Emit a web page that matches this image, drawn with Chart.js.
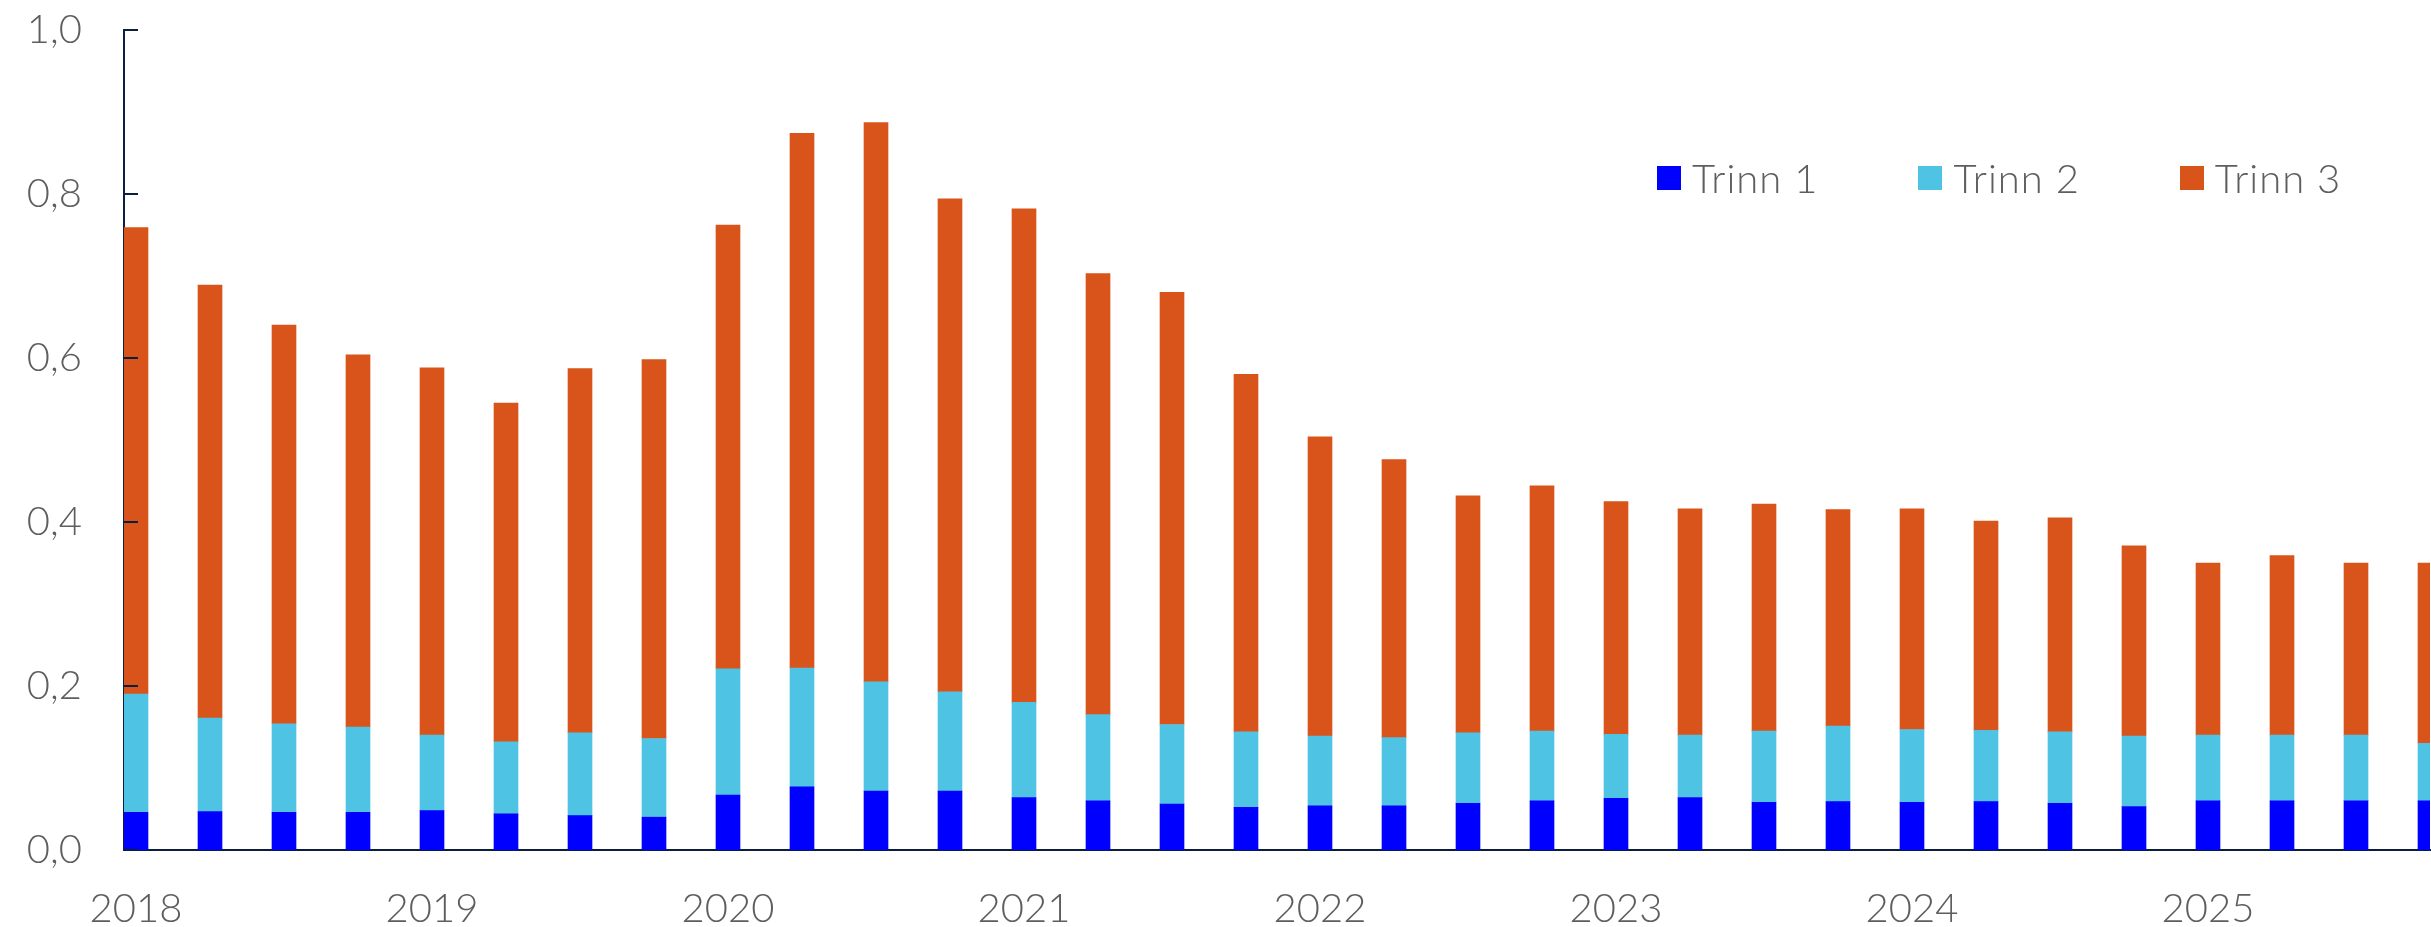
<!DOCTYPE html>
<html>
<head>
<meta charset="utf-8">
<script src="https://cdn.jsdelivr.net/npm/chart.js@4.4.1/dist/chart.umd.min.js"></script>
<style>
  html, body { margin: 0; padding: 0; background: #ffffff; }
  #wrap { position: relative; width: 2431px; height: 927px; overflow: hidden; }
  #c { position: absolute; left: 0; top: 0; }
  #legend { position: absolute; left: 1657px; top: 158px; display: flex; align-items: center;
            font-family: Lato, "Open Sans", sans-serif; font-weight: 300; font-size: 40px; color: #5e5e5e; line-height: 40px; }
  #legend .item { display: flex; align-items: center; margin-right: 100px; white-space: nowrap; letter-spacing: 1px; }
  #legend .box { width: 24px; height: 24px; margin-right: 11px; }
</style>
</head>
<body>
<div id="wrap">
  <canvas id="c" width="2431" height="927"></canvas>
  <div id="legend"></div>
</div>
<script>
// ---- data ----
const years = ['2018', '2019', '2020', '2021', '2022', '2023', '2024', '2025'];
const quarters = years.flatMap(y => ['K1', 'K2', 'K3', 'K4'].map(q => y + ' ' + q));
const seriesNames = ['Trinn 1', 'Trinn 2', 'Trinn 3'];
const trinn1 = [0.046, 0.047, 0.046, 0.046, 0.048, 0.044, 0.042, 0.040,
                0.067, 0.077, 0.072, 0.072, 0.064, 0.060, 0.056, 0.052,
                0.054, 0.054, 0.057, 0.060, 0.063, 0.064, 0.058, 0.059,
                0.058, 0.059, 0.057, 0.053, 0.060, 0.060, 0.060, 0.060];
const trinn2 = [0.144, 0.114, 0.108, 0.104, 0.092, 0.088, 0.101, 0.096,
                0.154, 0.145, 0.133, 0.121, 0.116, 0.105, 0.097, 0.092,
                0.085, 0.083, 0.086, 0.085, 0.078, 0.076, 0.087, 0.092,
                0.089, 0.087, 0.087, 0.086, 0.080, 0.080, 0.080, 0.070];
const trinn3 = [0.569, 0.528, 0.486, 0.454, 0.448, 0.413, 0.444, 0.462,
                0.541, 0.652, 0.682, 0.601, 0.602, 0.538, 0.527, 0.436,
                0.365, 0.339, 0.289, 0.299, 0.284, 0.276, 0.277, 0.264,
                0.269, 0.255, 0.261, 0.232, 0.210, 0.219, 0.210, 0.220];
const yTicks = [0, 0.2, 0.4, 0.6, 0.8, 1.0];

// ---- styles ----
const colors = ['#0000ff', '#4fc3e3', '#d9541a'];
const axisColor = '#0c1e3e';
const textColor = '#5e5e5e';
const fontFamily = 'Lato, "Open Sans", sans-serif';

const seriesValues = [trinn1, trinn2, trinn3];
const datasets = seriesNames.map((name, k) => ({
  label: name,
  data: seriesValues[k].map((v, i) => ({ x: i, y: v })),
  backgroundColor: colors[k],
  borderWidth: 0,
  barThickness: 24
}));

const innerTicks = {
  id: 'innerTicks',
  afterDatasetsDraw(chart) {
    const ys = chart.scales.y, ctx = chart.ctx;
    ctx.save();
    ctx.strokeStyle = axisColor;
    ctx.lineWidth = 2;
    ys.ticks.forEach(t => {
      const py = Math.round(ys.getPixelForValue(t.value));
      ctx.beginPath();
      ctx.moveTo(ys.right - 1, py);
      ctx.lineTo(ys.right + 14, py);
      ctx.stroke();
    });
    ctx.restore();
  }
};

function zeroPad(scale) {
  scale.paddingTop = 0; scale.paddingBottom = 0;
  scale.paddingLeft = 0; scale.paddingRight = 0;
}

function build() {
  const chart = new Chart(document.getElementById('c'), {
    type: 'bar',
    data: { labels: quarters, datasets },
    options: {
      responsive: false,
      animation: false,
      layout: { padding: { top: 30, right: 1, left: 0, bottom: 0 } },
      plugins: { legend: { display: false }, tooltip: { enabled: false } },
      scales: {
        x: {
          type: 'linear',
          stacked: true,
          offset: false,
          min: -12 / 74,
          max: quarters.length - 1,
          grid: { display: false, drawTicks: false, offset: false },
          border: { display: true, color: axisColor, width: 2 },
          afterBuildTicks: (scale) => {
            scale.ticks = years.map((y, i) => ({ value: i * 4 }));
          },
          afterFit: (scale) => { scale.height = 77; zeroPad(scale); },
          ticks: {
            autoSkip: false,
            maxRotation: 0,
            padding: 39,
            color: textColor,
            font: { family: fontFamily, size: 40, weight: 300, lineHeight: 1 },
            callback: (v) => years[Math.round(v / 4)]
          }
        },
        y: {
          stacked: true,
          min: 0,
          max: 1,
          afterBuildTicks: (scale) => { scale.ticks = yTicks.map(v => ({ value: v })); },
          afterFit: (scale) => { scale.width = 124; zeroPad(scale); },
          grid: { display: false, drawTicks: false },
          border: { display: true, color: axisColor, width: 2 },
          ticks: {
            padding: 42,
            color: textColor,
            font: { family: fontFamily, size: 40, weight: 300, lineHeight: 1.2 },
            callback: (v) => Number(v).toFixed(1).replace('.', ',')
          }
        }
      }
    },
    plugins: [innerTicks]
  });

  const legend = document.getElementById('legend');
  chart.data.datasets.forEach(ds => {
    const item = document.createElement('div');
    item.className = 'item';
    const box = document.createElement('span');
    box.className = 'box';
    box.style.background = ds.backgroundColor;
    const txt = document.createElement('span');
    txt.textContent = ds.label;
    item.appendChild(box);
    item.appendChild(txt);
    legend.appendChild(item);
  });
}

const fontLoads = [document.fonts.load('300 40px Lato'), document.fonts.load('40px Lato')];
Promise.all(fontLoads).then(build, build);
</script>
</body>
</html>
